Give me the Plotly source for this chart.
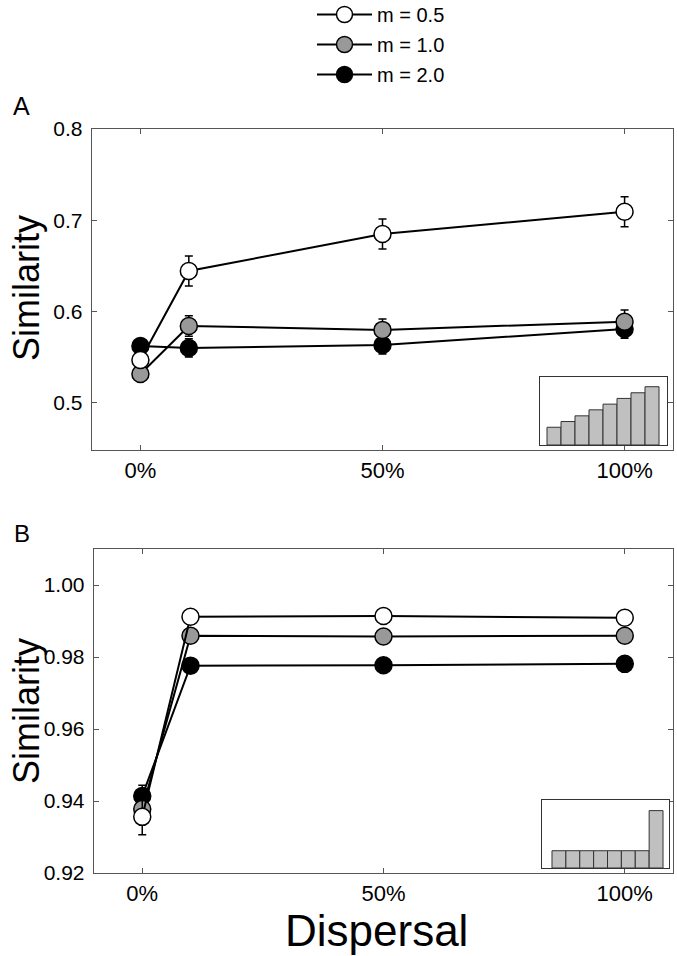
import plotly.graph_objects as go

# ---------------- data ----------------
dispersal = [0, 10, 50, 100]
x_tick_vals = [0, 50, 100]
x_tick_text = ["0%", "50%", "100%"]
series_names = ["m = 0.5", "m = 1.0", "m = 2.0"]
series_fill = ["#ffffff", "#999999", "#000000"]

# Panel A
a_m05 = [0.547, 0.6445, 0.685, 0.7094]
a_m05_err = [0.006, 0.0164, 0.0165, 0.0164]
a_m10 = [0.5317, 0.5843, 0.580, 0.589]
a_m10_err = [0.006, 0.0113, 0.0120, 0.0128]
a_m20 = [0.5624, 0.5602, 0.5635, 0.581]
a_m20_err = [0.006, 0.0100, 0.0100, 0.0100]
a_y_ticks = [0.5, 0.6, 0.7, 0.8]

# Panel B
b_m05 = [0.9356, 0.9912, 0.9914, 0.9909]
b_m05_err = [0.0050, 0.0004, 0.0004, 0.0004]
b_m10 = [0.9378, 0.9859, 0.9857, 0.9859]
b_m10_err = [0.0040, 0.0004, 0.0004, 0.0004]
b_m20 = [0.9414, 0.9776, 0.9777, 0.9781]
b_m20_err = [0.0030, 0.0004, 0.0004, 0.0004]
b_y_ticks = [0.92, 0.94, 0.96, 0.98, 1.00]

# Insets (relative bar heights)
inset_bins = [1, 2, 3, 4, 5, 6, 7, 8]
inset_a_heights = [0.261, 0.345, 0.429, 0.517, 0.601, 0.685, 0.768, 0.857]
inset_b_heights = [0.254, 0.254, 0.254, 0.254, 0.254, 0.254, 0.254, 0.844]

FONT = "Liberation Sans, Arial, Helvetica, sans-serif"
W, H = 677, 956


def px_x(p):
    return p / W


def px_y(p):
    return 1 - p / H


fig = go.Figure()

panels = [
    ("x", "y", [a_m05, a_m10, a_m20], [a_m05_err, a_m10_err, a_m20_err], True),
    ("x2", "y2", [b_m05, b_m10, b_m20], [b_m05_err, b_m10_err, b_m20_err], False),
]

# draw order: black, gray, white (white on top)
for xa, ya, vals, errs, show in panels:
    for i in [2, 1, 0]:
        fig.add_trace(go.Scatter(
            x=dispersal, y=vals[i],
            mode="lines+markers",
            name=series_names[i],
            legendrank=i + 1,
            legendgroup=series_names[i],
            showlegend=show,
            xaxis=xa, yaxis=ya,
            line=dict(color="black", width=2),
            marker=dict(size=17, color=series_fill[i],
                        line=dict(color="black", width=1.5)),
            error_y=dict(type="data", array=errs[i], visible=True,
                         color="black", thickness=1.5, width=4),
            cliponaxis=False,
        ))

# insets
fig.add_trace(go.Bar(x=inset_bins, y=inset_a_heights, xaxis="x3", yaxis="y3",
                     marker=dict(color="#c0c0c0", line=dict(color="#333333", width=1)),
                     width=1, showlegend=False))
fig.add_trace(go.Bar(x=inset_bins, y=inset_b_heights, xaxis="x4", yaxis="y4",
                     marker=dict(color="#c0c0c0", line=dict(color="#333333", width=1)),
                     width=1, showlegend=False))

axis_common = dict(
    showline=True, linecolor="#555555", linewidth=1.3, mirror="allticks",
    ticks="inside", ticklen=5, tickcolor="#555555", tickwidth=1,
    showgrid=False, zeroline=False, automargin=False,
)
x_font = dict(family=FONT, size=22, color="black")
y_font = dict(family=FONT, size=21, color="black")

inset_axis = dict(showline=True, linecolor="#333333", linewidth=1, mirror=True,
                  ticks="", showticklabels=False, showgrid=False, zeroline=False,
                  automargin=False)

fig.update_layout(
    width=W, height=H,
    margin=dict(l=0, r=0, t=0, b=0, autoexpand=False),
    paper_bgcolor="white", plot_bgcolor="white",
    font=dict(family=FONT, color="black"),
    barmode="overlay",
    xaxis=dict(domain=[px_x(92), px_x(673)], range=[-10, 110], anchor="y",
               tickvals=x_tick_vals, ticktext=x_tick_text, ticklabelstandoff=0,
               tickfont=x_font, **axis_common),
    yaxis=dict(domain=[px_y(450), px_y(129)], range=[0.4485, 0.8], anchor="x",
               tickvals=a_y_ticks, tickformat=".1f", ticklabelstandoff=4,
               tickfont=y_font, **axis_common),
    xaxis2=dict(domain=[px_x(94), px_x(673)], range=[-10, 110], anchor="y2",
                tickvals=x_tick_vals, ticktext=x_tick_text, ticklabelstandoff=0,
                tickfont=x_font, **axis_common),
    yaxis2=dict(domain=[px_y(873), px_y(549)], range=[0.92, 1.01], anchor="x2",
                tickvals=b_y_ticks, tickformat=".2f", ticklabelstandoff=4,
                tickfont=y_font, **axis_common),
    xaxis3=dict(domain=[px_x(540), px_x(667)], range=[0.0, 9.07], anchor="y3", **inset_axis),
    yaxis3=dict(domain=[px_y(445), px_y(377)], range=[0, 1], anchor="x3", **inset_axis),
    xaxis4=dict(domain=[px_x(542), px_x(669)], range=[-0.22, 8.93], anchor="y4", **inset_axis),
    yaxis4=dict(domain=[px_y(868), px_y(800)], range=[0, 1], anchor="x4", **inset_axis),
    legend=dict(x=px_x(312), y=1.0 + 5 / H, xanchor="left", yanchor="top",
                font=dict(family=FONT, size=20, color="black"),
                bgcolor="rgba(0,0,0,0)", itemwidth=55, tracegroupgap=1),
    annotations=[
        dict(text="Similarity", textangle=-90, x=px_x(26), y=px_y(288),
             xanchor="center", yanchor="middle",
             xref="paper", yref="paper", showarrow=False,
             font=dict(family=FONT, size=36, color="black")),
        dict(text="Similarity", textangle=-90, x=px_x(26), y=px_y(711),
             xanchor="center", yanchor="middle",
             xref="paper", yref="paper", showarrow=False,
             font=dict(family=FONT, size=36, color="black")),
        dict(text="Dispersal", x=px_x(376), y=px_y(930),
             xanchor="center", yanchor="middle",
             xref="paper", yref="paper", showarrow=False,
             font=dict(family=FONT, size=44, color="black")),
        dict(text="A", x=px_x(22), y=px_y(106),
             xanchor="center", yanchor="middle",
             xref="paper", yref="paper", showarrow=False,
             font=dict(family=FONT, size=25, color="black")),
        dict(text="B", x=px_x(22), y=px_y(533),
             xanchor="center", yanchor="middle",
             xref="paper", yref="paper", showarrow=False,
             font=dict(family=FONT, size=24, color="black")),
    ],
)

fig.write_html("out.html", config={"displayModeBar": False, "staticPlot": True},
               post_script="document.body.style.margin='0';")
